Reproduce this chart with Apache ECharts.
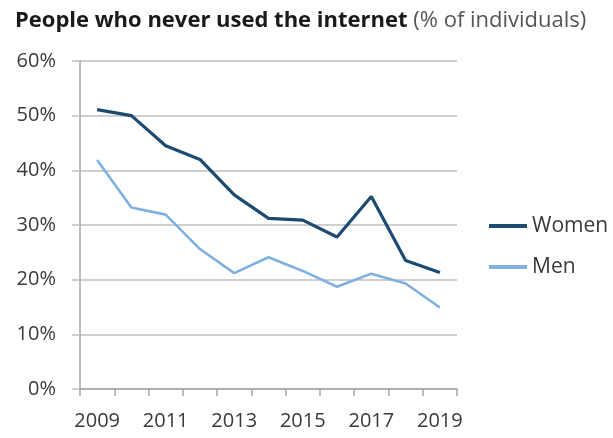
<!DOCTYPE html>
<html>
<head>
<meta charset="utf-8">
<script src="https://cdn.jsdelivr.net/npm/echarts@6/dist/echarts.min.js"></script>
<style>
  html, body { margin: 0; padding: 0; background: #fff; }
  #chart { width: 613px; height: 438px; }
</style>
</head>
<body>
<div id="chart"></div>
<script>
// years on the x axis
var years = ['2009', '2010', '2011', '2012', '2013', '2014', '2015', '2016', '2017', '2018', '2019'];
// % of individuals who never used the internet
var women = [51.1, 50.0, 44.5, 42.0, 35.5, 31.2, 30.9, 27.8, 35.2, 23.5, 21.3];
var men = [41.9, 33.2, 31.9, 25.6, 21.2, 24.1, 21.6, 18.7, 21.1, 19.3, 14.9];
var yTicks = [0, 10, 20, 30, 40, 50, 60];

var textColor = '#3a3a3a';
var gridColor = '#bfbfbf';

var myChart = echarts.init(document.getElementById('chart'));
window.onresize = myChart.resize;

var option = {
    animation: false,
    backgroundColor: '#fff',
    title: {
        text: '{b|People who never used the internet}{n| (% of individuals)}',
        left: 10,
        top: 5,
        textStyle: {
            rich: {
                b: { fontFamily: 'Open Sans', fontWeight: 'bold', fontSize: 22, color: '#1a1a1a' },
                n: { fontFamily: 'Open Sans', fontWeight: 'normal', fontSize: 22, color: '#555' }
            }
        }
    },
    legend: {
        orient: 'vertical',
        left: 484,
        top: 209,
        itemWidth: 38,
        itemHeight: 4,
        itemGap: 17,
        icon: 'rect',
        data: ['Women', 'Men'],
        textStyle: { fontFamily: 'Open Sans', fontSize: 21, color: textColor, lineHeight: 24 }
    },
    grid: { left: 80, right: 156, top: 61, bottom: 49 },
    xAxis: {
        type: 'category',
        data: years,
        boundaryGap: true,
        axisLine: { lineStyle: { color: '#a6a6a6', width: 1.5 } },
        axisTick: { show: true, interval: 0, length: 7, lineStyle: { color: '#a6a6a6', width: 1.5 } },
        axisLabel: { interval: 1, margin: 22, fontFamily: 'Open Sans', fontSize: 20, color: textColor }
    },
    yAxis: {
        type: 'value',
        min: yTicks[0],
        max: yTicks[yTicks.length - 1],
        interval: 10,
        axisLine: { show: true, lineStyle: { color: '#a6a6a6', width: 1.5 } },
        axisTick: { show: true, length: 8, lineStyle: { color: gridColor, width: 1.5 } },
        axisLabel: { formatter: '{value}%', margin: 24, fontFamily: 'Open Sans', fontSize: 20, color: textColor },
        splitLine: { lineStyle: { color: gridColor, width: 1.5 } }
    },
    series: [
        {
            name: 'Women',
            type: 'line',
            data: women,
            showSymbol: false,
            symbol: 'none',
            itemStyle: { color: '#1b4a72' },
            lineStyle: { color: '#1b4a72', width: 3.2 }
        },
        {
            name: 'Men',
            type: 'line',
            data: men,
            showSymbol: false,
            symbol: 'none',
            itemStyle: { color: '#7fb0e0' },
            lineStyle: { color: '#7fb0e0', width: 2.6 }
        }
    ]
};
myChart.setOption(option);
</script>
</body>
</html>
